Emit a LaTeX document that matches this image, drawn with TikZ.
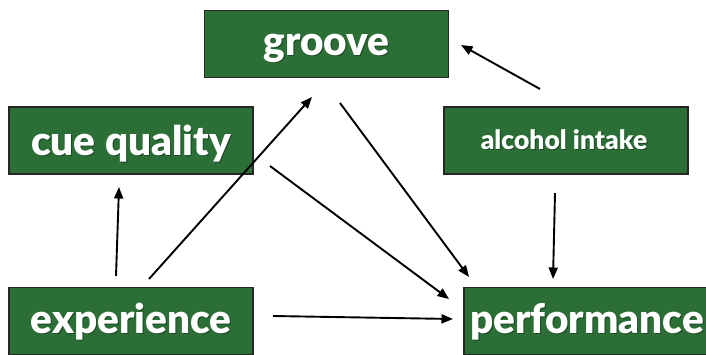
\documentclass[tikz,border=0pt]{standalone}
\usepackage{fontspec}
\setmainfont{Lato}[UprightFont=* Black]
\usetikzlibrary{arrows.meta}
\definecolor{boxgreen}{RGB}{43,111,55}
\tikzset{
  box/.style={draw=black!85, line width=1.4pt, fill=boxgreen, minimum width=244pt,
    minimum height=67pt, inner sep=0pt},
  lbl/.style={text=white, anchor=base, inner sep=0pt},
  big/.style={lbl, font=\fontsize{40.5}{40}\selectfont},
  small/.style={lbl, font=\fontsize{26.5}{26}\selectfont},
  shade/.style={text=black, text opacity=0.35},
  link/.style={line width=1.9pt, -{Triangle[length=11.5pt,width=9pt]}}
}
\begin{document}
\begin{tikzpicture}[x=1pt,y=-1pt]
\useasboundingbox (0,0) rectangle (706,354);
\clip (0,0) rectangle (706,354);
% boxes
\node[box] (groove) at (326.5,44) {};
\node[box] (cue) at (131,140.5) {};
\node[box] (alcohol) at (566,140.5) {};
\node[box] (exp) at (131,321) {};
\node[box] (perf) at (586,321) {};
% soft text shadows
\node[big,shade] at (327.5,56) {groove};
\node[big,shade] at (132,156) {cue quality};
\node[small,shade] at (565,150) {alcohol intake};
\node[big,shade] at (132,334) {experience};
\node[big,shade] at (588,334) {performance};
% labels
\node[big] (tgroove) at (326.5,55) {groove};
\node[big] (tcue) at (131,155) {cue quality};
\node[small] (talcohol) at (564,149) {alcohol intake};
\node[big] (texp) at (131,333) {experience};
\node[big] (tperf) at (587,333) {performance};
% free connector ends
\coordinate (a1) at (540,89);   \coordinate (g1) at (461,45);
\coordinate (e1) at (149,279);  \coordinate (g2) at (312,97);
\coordinate (g3) at (340,103);  \coordinate (p1) at (469,277);
\coordinate (c1) at (270,166);  \coordinate (p2) at (449,299);
\coordinate (a2) at (555,193);  \coordinate (p3) at (553,279);
\coordinate (e2) at (116,276);  \coordinate (c2) at (119,187);
\coordinate (e3) at (273,316);  \coordinate (p4) at (453,319);
% connectors
\draw[link] (a1) -- (g1);
\draw[link] (e1) -- (g2);
\draw[link] (g3) -- (p1);
\draw[link] (c1) -- (p2);
\draw[link] (a2) -- (p3);
\draw[link] (e2) -- (c2);
\draw[link] (e3) -- (p4);
\end{tikzpicture}
\end{document}
